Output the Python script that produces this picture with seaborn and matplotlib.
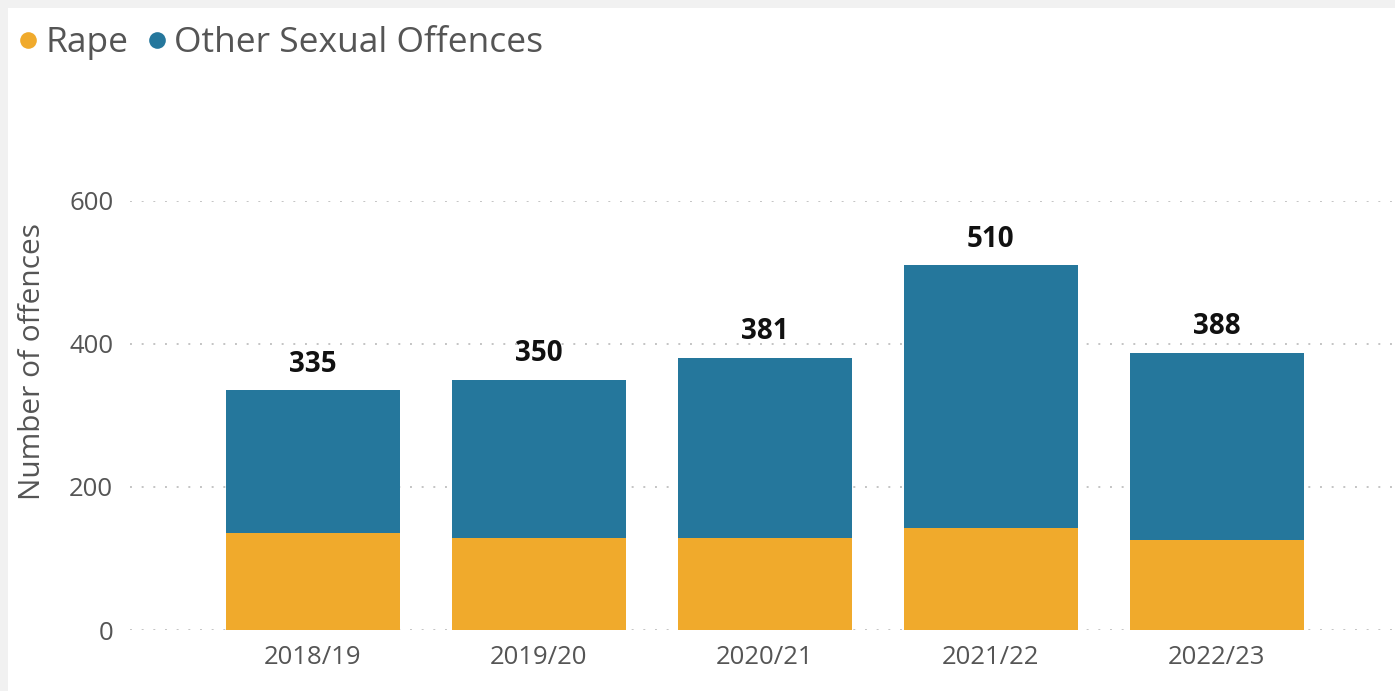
import pandas as pd
import matplotlib.pyplot as plt
import matplotlib.patches as mpatches
from matplotlib.lines import Line2D
import seaborn as sns

# Data
years = ['2018/19', '2019/20', '2020/21', '2021/22', '2022/23']
rape = [136, 129, 129, 143, 126]
other = [199, 221, 252, 367, 262]

RAPE_COLOR = '#F0AA2C'
OTHER_COLOR = '#25779C'

sns.set_theme(style="white")
plt.rcParams['font.family'] = ['Open Sans', 'DejaVu Sans']

df = pd.DataFrame({'year': years, 'rape': rape, 'other': other})
df['total'] = df['rape'] + df['other']

fig = plt.figure(figsize=(13.95, 6.91), dpi=100)
fig.patch.set_facecolor('#f1f1f1')
fig.patches.append(mpatches.Rectangle((8 / 1395, 0), 1, (691 - 8) / 691,
                                      transform=fig.transFigure, facecolor='white',
                                      edgecolor='none', zorder=-10))

ax = fig.add_axes([130 / 1395, 61 / 691, 1265 / 1395, 429 / 691])
ax.set_facecolor('none')

# Stacked: full total in blue, rape drawn over the bottom part
sns.barplot(data=df, x='year', y='total', color=OTHER_COLOR, width=0.77,
            saturation=1, linewidth=0, ax=ax, zorder=3)
sns.barplot(data=df, x='year', y='rape', color=RAPE_COLOR, width=0.77,
            saturation=1, linewidth=0, ax=ax, zorder=4)

for i, t in enumerate(df['total']):
    ax.text(i, t + 16, f'{t}', ha='center', va='bottom', fontsize=20,
            fontweight='bold', color='#111111', clip_on=False)

ax.set_xlim(-0.81, 4.79)
ax.set_ylim(0, 600)
ax.set_yticks([0, 200, 400, 600])
ax.yaxis.grid(True, linestyle=(0, (1, 5)), color='#c4c4c4', linewidth=1.4)
ax.set_axisbelow(True)
for s in ax.spines.values():
    s.set_visible(False)

ax.tick_params(axis='both', length=0, labelsize=18.5, colors='#555555')
ax.tick_params(axis='y', pad=12)
ax.tick_params(axis='x', pad=11)
ax.set_xlabel('')
ax.set_ylabel('Number of offences', fontsize=21.5, color='#555555')
ax.yaxis.set_label_coords(-0.066, 0.627)

handles = [Line2D([0], [0], marker='o', linestyle='', markersize=12,
                  markerfacecolor=RAPE_COLOR, markeredgecolor='none', label='Rape'),
           Line2D([0], [0], marker='o', linestyle='', markersize=12,
                  markerfacecolor=OTHER_COLOR, markeredgecolor='none', label='Other Sexual Offences')]
fig.legend(handles=handles, loc='upper left', bbox_to_anchor=(17 / 1395, 1 - 26 / 691),
           ncol=2, frameon=False, fontsize=25.5, handlelength=0.6, handletextpad=0.2,
           columnspacing=0.5, borderaxespad=0, borderpad=0, labelcolor='#555555')

plt.savefig('out.png', dpi=100, facecolor=fig.get_facecolor())
